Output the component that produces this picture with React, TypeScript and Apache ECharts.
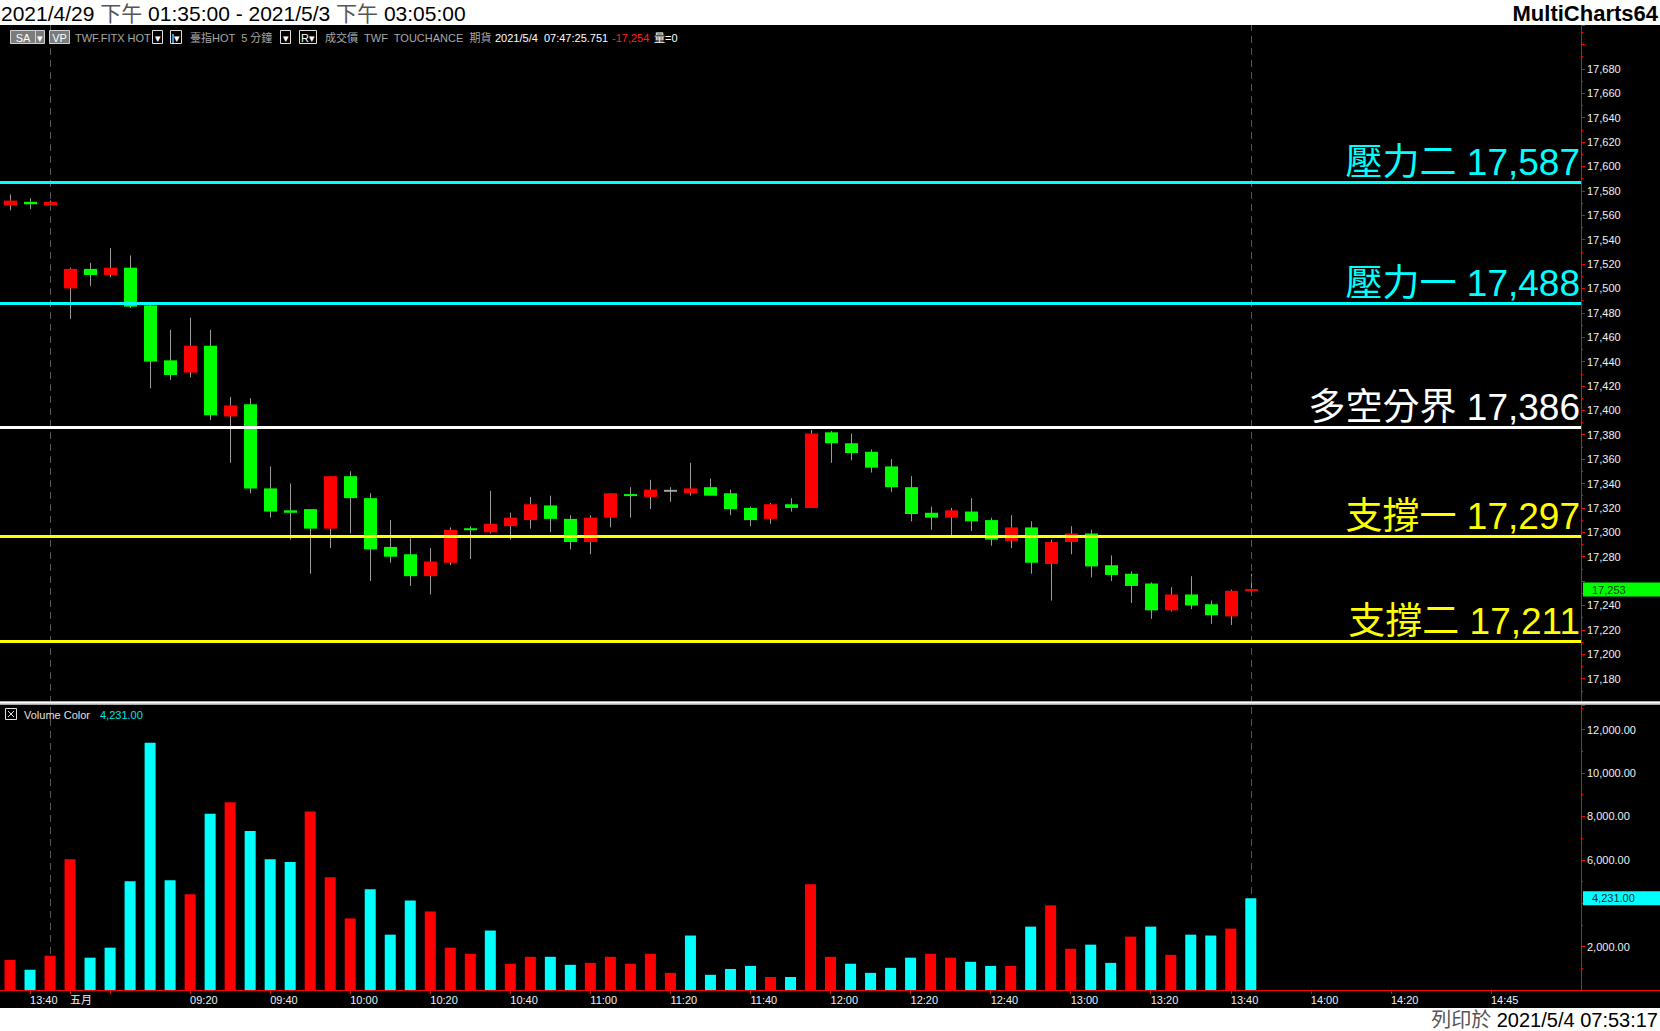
import React, { useEffect, useRef } from 'react';
import * as echarts from 'echarts';

const FONT = "'Liberation Sans', Arial, 'Noto Sans CJK TC', sans-serif";

// ---- time categories (5-minute bars) ----
const PREV_DATE = '4/29';
const PREV_TIMES = ['13:35', '13:40', '13:45'];
const CUR_DATE = '5/3';
const CUR_START = '08:50';
const CUR_BAR_COUNT = 76;

function buildCategories(): string[] {
  const out = PREV_TIMES.map((t) => `${PREV_DATE} ${t}`);
  const [h0, m0] = CUR_START.split(':').map(Number);
  for (let k = 0; k < CUR_BAR_COUNT; k++) {
    const mins = h0 * 60 + m0 + k * 5;
    const hh = String(Math.floor(mins / 60)).padStart(2, '0');
    const mm = String(mins % 60).padStart(2, '0');
    out.push(`${CUR_DATE} ${hh}:${mm}`);
  }
  return out;
}
const CATEGORIES = buildCategories();

const LABELED_TICKS = [
  '4/29 13:40', '5/3 08:50', '5/3 09:20', '5/3 09:40', '5/3 10:00', '5/3 10:20', '5/3 10:40',
  '5/3 11:00', '5/3 11:20', '5/3 11:40', '5/3 12:00', '5/3 12:20', '5/3 12:40', '5/3 13:00',
  '5/3 13:20', '5/3 13:40', '5/3 14:00', '5/3 14:20', '5/3 14:45',
];
const UNLABELED_TICKS = ['5/3 09:00'];
const MONTH_LABELS: Record<string, string> = { '5/3 08:50': '五月' };
const SESSION_MARKERS = ['4/29 13:45', '5/3 13:45'];

// ---- OHLC ----
const OPEN = [
  17568, 17571, 17568, 17500, 17516, 17511, 17517, 17486, 17441, 17431,
  17453, 17395, 17405, 17336, 17318, 17319, 17303, 17346, 17328, 17288,
  17282, 17264, 17275, 17303, 17300, 17305, 17310, 17322, 17311, 17292,
  17312, 17331, 17329, 17334, 17332, 17337, 17332, 17320, 17311, 17323,
  17320, 17382, 17373, 17366, 17354, 17337, 17316, 17312, 17317, 17310,
  17293, 17304, 17274, 17292, 17299, 17273, 17266, 17258, 17236, 17249,
  17241, 17231, 17252,
];
const CLOSE = [
  17572, 17569, 17571, 17516, 17511, 17517, 17485, 17440, 17429, 17453,
  17396, 17404, 17336, 17317, 17316, 17303, 17346, 17328, 17286, 17280,
  17264, 17276, 17302, 17302, 17307, 17312, 17323, 17311, 17292, 17312,
  17332, 17330, 17335, 17334, 17336, 17330, 17319, 17310, 17323, 17320,
  17381, 17373, 17365, 17353, 17337, 17315, 17312, 17318, 17309, 17294,
  17304, 17275, 17292, 17299, 17272, 17265, 17256, 17236, 17249, 17240,
  17232, 17252, 17253,
];
const HIGH = [
  17577, 17574, 17572, 17517, 17521, 17533, 17527, 17487, 17466, 17476,
  17466, 17411, 17410, 17354, 17340, 17319, 17346, 17350, 17332, 17310,
  17295, 17287, 17304, 17305, 17334, 17316, 17329, 17330, 17314, 17314,
  17332, 17337, 17343, 17337, 17357, 17344, 17335, 17321, 17324, 17328,
  17384, 17383, 17381, 17368, 17360, 17346, 17321, 17320, 17328, 17312,
  17314, 17309, 17294, 17305, 17302, 17281, 17268, 17259, 17255, 17264,
  17244, 17253, 17266,
];
const LOW = [
  17564, 17565, 17565, 17475, 17502, 17509, 17484, 17418, 17425, 17427,
  17392, 17357, 17332, 17312, 17294, 17266, 17287, 17299, 17260, 17275,
  17256, 17249, 17273, 17278, 17299, 17294, 17303, 17300, 17286, 17282,
  17304, 17312, 17319, 17325, 17330, 17330, 17314, 17305, 17307, 17317,
  17320, 17357, 17359, 17349, 17333, 17309, 17302, 17297, 17301, 17289,
  17287, 17266, 17244, 17282, 17263, 17260, 17242, 17229, 17235, 17237,
  17225, 17224, 17248,
];

// ---- volume ----
const VOLUMES = [
  1390, 930, 1580, 6030, 1490, 1950, 5010, 11400, 5060, 4410,
  8120, 8650, 7330, 6030, 5900, 8230, 5200, 3300, 4640, 2550,
  4130, 3620, 1950, 1670, 2740, 1210, 1530, 1530, 1160, 1250,
  1530, 1210, 1670, 790, 2510, 700, 970, 1110, 600, 600,
  4870, 1530, 1210, 790, 1020, 1490, 1670, 1490, 1300, 1110,
  1110, 2920, 3900, 1900, 2090, 1250, 2460, 2920, 1620, 2550,
  2510, 2830, 4231,
];
// 1 = red volume bar, 0 = cyan volume bar
const VOL_RED = [
  1, 0, 1, 1, 0, 0, 0, 0, 0, 1,
  0, 1, 0, 0, 0, 1, 1, 1, 0, 0,
  0, 1, 1, 1, 0, 1, 1, 0, 0, 1,
  1, 1, 1, 1, 0, 0, 0, 0, 1, 0,
  1, 1, 0, 0, 0, 0, 1, 1, 0, 0,
  1, 0, 1, 1, 0, 0, 1, 0, 1, 0,
  0, 1, 0,
];

// ---- levels ----
const LEVEL_NAMES = ['壓力二', '壓力一', '多空分界', '支撐一', '支撐二'];
const LEVEL_VALUES = [17587, 17488, 17386, 17297, 17211];
const LEVEL_COLORS = ['#00ffff', '#00ffff', '#ffffff', '#ffff00', '#ffff00'];

const TITLE_TEXT = '2021/4/29 {g|下午} 01:35:00 - 2021/5/3 {g|下午} 03:05:00';
const BRAND = 'MultiCharts64';
const PRINTED = '{g|列印於} 2021/5/4 07:53:17';
const TOOLBAR_TIME = '2021/5/4  07:47:25.751';
const TOOLBAR_PRICE = '-17,254';

const fmtInt = (v: number) => Math.round(v).toLocaleString('en-US');
const fmt2 = (v: number) =>
  v.toLocaleString('en-US', { minimumFractionDigits: 2, maximumFractionDigits: 2 });

function txt(x: number, y: number, text: string, fill: string, size = 11, extra: any = {}) {
  return {
    type: 'text',
    x,
    y,
    z: 20,
    style: {
      text,
      fill,
      fontSize: size,
      fontFamily: FONT,
      align: 'left',
      textAlign: 'left',
      verticalAlign: 'middle',
      textVerticalAlign: 'middle',
      ...extra,
    },
  };
}

function box(x: number, w: number, label: string, fill: string, stroke: string) {
  return [
    {
      type: 'rect',
      z: 20,
      shape: { x: x + 0.5, y: 30.5, width: w, height: 13 },
      style: { fill, stroke, lineWidth: 1 },
    },
    txt(x + w / 2 + 0.5, 37.5, label, '#ffffff', 11, { align: 'center', textAlign: 'center' }),
  ];
}

export default function App() {
  const ref = useRef<HTMLDivElement>(null);

  useEffect(() => {
    if (!ref.current) return;
    const chart = echarts.init(ref.current, undefined, { renderer: 'svg' });

    const TICK_SET = new Set([...LABELED_TICKS, ...UNLABELED_TICKS]);
    const LABEL_SET = new Set(LABELED_TICKS);
    const last = CLOSE.length - 1;
    const lastPrice = CLOSE[last];
    const lastVol = VOLUMES[last];

    const candleData = OPEN.map((o, i) => [i, o, CLOSE[i], LOW[i], HIGH[i]]);
    const volData = VOLUMES.map((v, i) => ({
      value: v,
      itemStyle: { color: VOL_RED[i] ? '#ff0000' : '#00ffff' },
    }));

    const vertMarks = SESSION_MARKERS.map((c) => ({
      xAxis: c,
      lineStyle: { color: '#555555', width: 1, type: [7, 5] },
      label: { show: false },
    }));

    const levelMarks = LEVEL_VALUES.map((v, i) => ({
      yAxis: v,
      name: LEVEL_NAMES[i],
      lineStyle: { color: LEVEL_COLORS[i], width: 3, type: 'solid' },
      label: {
        show: true,
        position: 'insideEndTop',
        distance: 1,
        color: LEVEL_COLORS[i],
        fontSize: 37,
        fontFamily: FONT,
        formatter: () => `${LEVEL_NAMES[i]} ${fmtInt(v)}`,
      },
    }));

    const markerLabel = (text: string, bg: string, fg: string, padRight: number) => ({
      show: true,
      position: 'end',
      distance: 2,
      formatter: () => text,
      backgroundColor: bg,
      color: fg,
      fontSize: 11,
      fontFamily: FONT,
      padding: [2, padRight, 1, 9],
    });

    const priceMarker = {
      yAxis: lastPrice,
      lineStyle: { color: 'rgba(0,0,0,0)', width: 1, type: 'solid' },
      label: markerLabel(fmtInt(lastPrice), '#00ff00', '#0a3a0a', 36),
    };

    const volMarker = {
      yAxis: lastVol,
      lineStyle: { color: 'rgba(0,0,0,0)', width: 1, type: 'solid' },
      label: markerLabel(fmt2(lastVol), '#00ffff', '#0a2a2a', 26),
    };

    const redAxis = { show: true, lineStyle: { color: '#ff0000', width: 1 } };

    const option: any = {
      animation: false,
      backgroundColor: '#000000',
      grid: [
        { left: 0, top: 25, width: 1581, height: 678 },
        { left: 0, top: 705, width: 1581, height: 285 },
      ],
      xAxis: [
        {
          type: 'category',
          gridIndex: 0,
          data: CATEGORIES,
          boundaryGap: true,
          show: false,
        },
        {
          type: 'category',
          gridIndex: 1,
          data: CATEGORIES,
          boundaryGap: true,
          axisLine: redAxis,
          axisTick: {
            show: true,
            alignWithLabel: true,
            interval: (_i: number, v: string) => TICK_SET.has(v),
            length: 4,
            lineStyle: { color: '#ff0000' },
          },
          axisLabel: {
            interval: (_i: number, v: string) => LABEL_SET.has(v),
            formatter: (v: string) => MONTH_LABELS[v] ?? v.split(' ')[1],
            color: '#f0f0f0',
            fontSize: 11,
            fontFamily: FONT,
            align: 'left',
            margin: 4,
          },
          splitLine: { show: false },
        },
      ],
      yAxis: [
        {
          type: 'value',
          gridIndex: 0,
          position: 'right',
          min: 17160,
          max: 17716,
          interval: 20,
          axisLine: redAxis,
          axisTick: { show: true, length: 4, lineStyle: { color: '#ff0000' } },
          minorTick: { show: true, splitNumber: 2, length: 2, lineStyle: { color: '#ff0000' } },
          axisLabel: {
            color: '#f0f0f0',
            fontSize: 11,
            fontFamily: FONT,
            margin: 6,
            showMinLabel: false,
            showMaxLabel: false,
            // labels under the last-price marker are covered in the original
            formatter: (v: number) =>
              v >= 17180 && v <= 17680 && Math.abs(v - lastPrice) > 10 ? fmtInt(v) : '',
          },
          splitLine: { show: false },
          minorSplitLine: { show: false },
        },
        {
          type: 'value',
          gridIndex: 1,
          position: 'right',
          min: 0,
          max: 13134,
          interval: 2000,
          axisLine: redAxis,
          axisTick: { show: true, length: 4, lineStyle: { color: '#ff0000' } },
          minorTick: { show: true, splitNumber: 2, length: 2, lineStyle: { color: '#ff0000' } },
          axisLabel: {
            color: '#f0f0f0',
            fontSize: 11,
            fontFamily: FONT,
            margin: 6,
            showMinLabel: false,
            showMaxLabel: false,
            formatter: (v: number) =>
              v > 0 && v <= 12000 && Math.abs(v - lastVol) > 500 ? fmt2(v) : '',
          },
          splitLine: { show: false },
        },
      ],
      series: [
        {
          name: 'price',
          type: 'custom',
          xAxisIndex: 0,
          yAxisIndex: 0,
          data: candleData,
          encode: { x: 0, y: [1, 2, 3, 4] },
          renderItem: (_params: any, api: any) => {
            const i = api.value(0);
            const o = api.value(1);
            const c = api.value(2);
            const l = api.value(3);
            const h = api.value(4);
            const pO = api.coord([i, o]);
            const pC = api.coord([i, c]);
            const pL = api.coord([i, l]);
            const pH = api.coord([i, h]);
            const bw = Math.round(api.size([1, 0])[0] * 0.65);
            const xc = Math.round(pO[0]);
            let top = Math.min(pO[1], pC[1]);
            let hh = Math.abs(pO[1] - pC[1]);
            if (hh < 2) {
              top = (pO[1] + pC[1]) / 2 - 1;
              hh = 2;
            }
            const color = c > o ? '#ff0000' : c < o ? '#00ff00' : '#a0a0a0';
            return {
              type: 'group',
              children: [
                {
                  type: 'line',
                  shape: { x1: xc + 0.5, y1: pH[1], x2: xc + 0.5, y2: pL[1] },
                  style: { stroke: '#9a9a9a', lineWidth: 1 },
                },
                {
                  type: 'rect',
                  shape: { x: xc + 0.5 - bw / 2, y: top, width: bw, height: hh },
                  style: { fill: color },
                },
              ],
            };
          },
          markLine: {
            silent: true,
            symbol: ['none', 'none'],
            animation: false,
            data: [...vertMarks, ...levelMarks, priceMarker],
          },
        },
        {
          name: 'volume',
          type: 'bar',
          xAxisIndex: 1,
          yAxisIndex: 1,
          barWidth: 11,
          data: volData,
          z: 3,
          markLine: {
            silent: true,
            symbol: ['none', 'none'],
            animation: false,
            z: 1,
            data: [...vertMarks, volMarker],
          },
        },
      ],
      graphic: [
        // header
        { type: 'rect', z: 30, shape: { x: 0, y: 0, width: 1660, height: 25 }, style: { fill: '#ffffff' } },
        {
          type: 'text',
          z: 31,
          x: 1,
          y: 13,
          style: {
            text: TITLE_TEXT,
            fill: '#000000',
            fontSize: 21,
            fontFamily: FONT,
            verticalAlign: 'middle',
            textVerticalAlign: 'middle',
            rich: { g: { fill: '#555555', fontSize: 21, fontFamily: FONT } },
          },
        },
        {
          type: 'text',
          z: 31,
          x: 1658,
          y: 13,
          style: {
            text: BRAND,
            fill: '#000000',
            fontSize: 22,
            fontWeight: 'bold',
            fontFamily: FONT,
            align: 'right',
            textAlign: 'right',
            verticalAlign: 'middle',
            textVerticalAlign: 'middle',
          },
        },
        // footer
        { type: 'rect', z: 30, shape: { x: 0, y: 1008, width: 1660, height: 23 }, style: { fill: '#ffffff' } },
        {
          type: 'text',
          z: 31,
          x: 1658,
          y: 1020,
          style: {
            text: PRINTED,
            fill: '#000000',
            fontSize: 20,
            fontFamily: FONT,
            align: 'right',
            textAlign: 'right',
            verticalAlign: 'middle',
            textVerticalAlign: 'middle',
            rich: { g: { fill: '#555555', fontSize: 20, fontFamily: FONT } },
          },
        },
        // pane separator
        { type: 'rect', z: 25, shape: { x: 0, y: 701, width: 1660, height: 4 }, style: { fill: '#a8a8a8' } },
        { type: 'rect', z: 26, shape: { x: 0, y: 702, width: 1660, height: 1.5 }, style: { fill: '#ffffff' } },
        // axis line extension at bottom right
        {
          type: 'line',
          z: 20,
          shape: { x1: 1581, y1: 990.5, x2: 1660, y2: 990.5 },
          style: { stroke: '#ff0000', lineWidth: 1 },
        },
        // toolbar
        ...box(10, 25, 'SA', '#7c7c7c', '#d0d0d0'),
        ...box(35, 9, '▾', '#7c7c7c', '#d0d0d0'),
        ...box(49, 20, 'VP', '#7c7c7c', '#d0d0d0'),
        txt(75, 37.5, 'TWF.FITX HOT', '#a8a8a8'),
        ...box(152, 10, '▾', '#000000', '#e0e0e0'),
        ...box(170, 11, '|▾', '#000000', '#e0e0e0'),
        txt(190, 37.5, '臺指HOT  5 分鐘', '#a8a8a8'),
        ...box(280, 10, '▾', '#000000', '#e0e0e0'),
        ...box(299, 17, 'R▾', '#000000', '#e0e0e0'),
        txt(325, 37.5, '成交價  TWF  TOUCHANCE  期貨', '#a8a8a8'),
        txt(495, 37.5, TOOLBAR_TIME, '#ffffff'),
        txt(612, 37.5, TOOLBAR_PRICE, '#ff2020'),
        txt(654, 37.5, '量=0', '#ffffff'),
        // volume pane header
        {
          type: 'rect',
          z: 20,
          shape: { x: 5.5, y: 708.5, width: 11, height: 11 },
          style: { fill: '#000000', stroke: '#e0e0e0', lineWidth: 1 },
        },
        {
          type: 'line',
          z: 21,
          shape: { x1: 8, y1: 711, x2: 14, y2: 717 },
          style: { stroke: '#e0e0e0', lineWidth: 1 },
        },
        {
          type: 'line',
          z: 21,
          shape: { x1: 14, y1: 711, x2: 8, y2: 717 },
          style: { stroke: '#e0e0e0', lineWidth: 1 },
        },
        txt(24, 714.5, 'Volume Color', '#e0e0e0'),
        txt(100, 714.5, fmt2(lastVol), '#00e5e5'),
      ],
    };

    chart.setOption(option);
    return () => chart.dispose();
  }, []);

  return (
    <div
      ref={ref}
      style={{ position: 'fixed', left: 0, top: 0, width: 1660, height: 1031, background: '#000' }}
    />
  );
}
